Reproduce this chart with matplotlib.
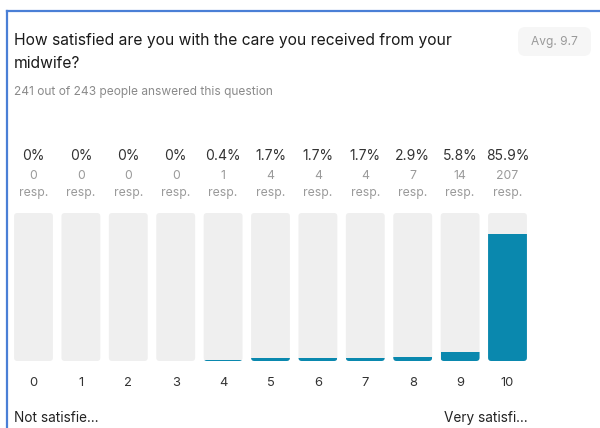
import matplotlib
matplotlib.use("Agg")
import matplotlib.pyplot as plt
from matplotlib.patches import FancyBboxPatch
from matplotlib.lines import Line2D
from matplotlib import transforms

# Survey answers, 0-10 scale
scores = list(range(11))
percents = [0, 0, 0, 0, 0.4, 1.7, 1.7, 1.7, 2.9, 5.8, 85.9]
responses = [0, 0, 0, 0, 1, 4, 4, 4, 7, 14, 207]
pct_labels = ["0%", "0%", "0%", "0%", "0.4%", "1.7%", "1.7%", "1.7%", "2.9%", "5.8%", "85.9%"]

title_lines = ["How satisfied are you with the care you received from your", "midwife?"]
subtitle = "241 out of 243 people answered this question"
avg_text = "Avg. 9.7"
low_label = "Not satisfie..."
high_label = "Very satisfi..."

FILL = "#0a88ae"
TRACK = "#efefef"
W, H = 600, 428

plt.rcParams["font.family"] = ["Inter", "DejaVu Sans"]

fig = plt.figure(figsize=(W / 100, H / 100), dpi=100)
fig.patch.set_facecolor("white")


def fx(x):
    return x / W


def fy(y):
    return 1 - y / H


# card border (left and top edges)
fig.add_artist(Line2D([fx(7), fx(7)], [fy(11), fy(H + 2)], color="#4a7fd6", lw=1.6,
                      transform=fig.transFigure))
fig.add_artist(Line2D([fx(7), fx(W + 2)], [fy(11), fy(11)], color="#4a7fd6", lw=1.6,
                      transform=fig.transFigure))

fig.text(fx(14), fy(45), title_lines[0], fontsize=11.25, color="#1a1a1a", va="baseline")
fig.text(fx(14), fy(68), title_lines[1], fontsize=11.25, color="#1a1a1a", va="baseline")
fig.text(fx(14), fy(95), subtitle, fontsize=8.6, color="#8a8a8a", va="baseline")

# average badge
badge = FancyBboxPatch((fx(518), fy(56)), fx(73), 29 / H,
                       boxstyle="round,pad=0,rounding_size=0.012",
                       mutation_aspect=W / H, transform=fig.transFigure,
                       facecolor="#f6f6f6", edgecolor="none")
fig.add_artist(badge)
fig.text(fx(554), fy(42), avg_text, fontsize=8.6, color="#9a9a9a", ha="center", va="center")

# bar area
ax = fig.add_axes([fx(9.8), fy(361), 521.4 / W, 148 / H])
ax.set_xlim(-0.5, 10.5)
ax.set_ylim(0, 100)
ax.axis("off")

bar_w = 0.82
aspect = (521.4 / 11) / 1.48
for s, p in zip(scores, percents):
    track = FancyBboxPatch((s - bar_w / 2, 0), bar_w, 100,
                           boxstyle="round,pad=0,rounding_size=0.07",
                           mutation_aspect=aspect, facecolor=TRACK, edgecolor="none")
    ax.add_patch(track)
    if p > 0:
        bars = ax.bar(s, p, width=bar_w, bottom=0, color=FILL, edgecolor="none")
        bars[0].set_clip_path(track)

trans = transforms.blended_transform_factory(ax.transData, fig.transFigure)
for s, lab, n in zip(scores, pct_labels, responses):
    ax.text(s, fy(156), lab, transform=trans, ha="center", va="center",
            fontsize=10, color="#333333")
    ax.text(s, fy(176), str(n), transform=trans, ha="center", va="center",
            fontsize=8.8, color="#9a9a9a")
    ax.text(s, fy(193), "resp.", transform=trans, ha="center", va="center",
            fontsize=8.8, color="#9a9a9a")
    ax.text(s, fy(383), str(s), transform=trans, ha="center", va="center",
            fontsize=9.3, color="#333333")

fig.text(fx(14), fy(418), low_label, fontsize=9.8, color="#222222", va="center")
fig.text(fx(528), fy(418), high_label, fontsize=9.8, color="#222222", va="center", ha="right")

fig.savefig("out.png", dpi=100, facecolor="white")
